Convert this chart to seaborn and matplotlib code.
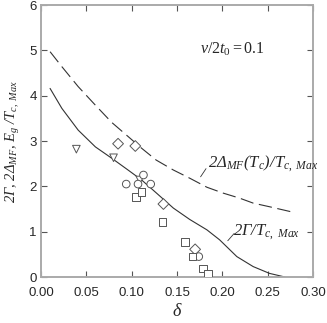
import matplotlib
matplotlib.use("Agg")
import matplotlib.pyplot as plt
import pandas as pd
import seaborn as sns

# curves
gamma_delta = [0.010, 0.023, 0.041, 0.060, 0.078, 0.096, 0.111, 0.128, 0.146,
               0.164, 0.183, 0.197, 0.216, 0.234, 0.252, 0.269]
gamma_val = [4.16, 3.72, 3.24, 2.87, 2.62, 2.36, 2.14, 1.84, 1.52,
             1.27, 1.04, 0.82, 0.45, 0.23, 0.08, 0.0]

dmf_delta = [0.010, 0.023, 0.041, 0.060, 0.078, 0.096, 0.111, 0.127, 0.146,
             0.164, 0.183, 0.201, 0.219, 0.234, 0.252, 0.280]
dmf_val = [4.97, 4.64, 4.20, 3.79, 3.41, 3.10, 2.84, 2.58, 2.36,
           2.18, 1.98, 1.85, 1.74, 1.63, 1.55, 1.42]

# experimental points
tri_x = [0.039, 0.080, 0.109]
tri_y = [2.82, 2.63, 2.14]
dia_x = [0.085, 0.104, 0.135, 0.170]
dia_y = [2.94, 2.89, 1.61, 0.61]
circ_x = [0.094, 0.107, 0.113, 0.121, 0.174]
circ_y = [2.05, 2.05, 2.25, 2.05, 0.45]
sq_x = [0.105, 0.111, 0.134, 0.159, 0.167, 0.179, 0.184]
sq_y = [1.76, 1.87, 1.21, 0.77, 0.45, 0.19, 0.07]

sns.set_style("ticks")
plt.rcParams['font.family'] = ['Liberation Sans', 'DejaVu Sans']
plt.rcParams['mathtext.fontset'] = 'custom'
plt.rcParams['mathtext.rm'] = 'Liberation Serif'
plt.rcParams['mathtext.it'] = 'Liberation Serif:italic'

pts = pd.concat([
    pd.DataFrame({'delta': tri_x, 'val': tri_y, 'kind': 'tri'}),
    pd.DataFrame({'delta': dia_x, 'val': dia_y, 'kind': 'dia'}),
    pd.DataFrame({'delta': circ_x, 'val': circ_y, 'kind': 'circ'}),
    pd.DataFrame({'delta': sq_x, 'val': sq_y, 'kind': 'sq'}),
])

fig = plt.figure(figsize=(3.27, 3.23), dpi=100)
ax = fig.add_axes([0.1254, 0.1424, 0.8318, 0.8421])

sns.lineplot(x=gamma_delta, y=gamma_val, ax=ax, color='#333333', lw=0.8)
sns.lineplot(x=dmf_delta, y=dmf_val, ax=ax, color='#333333', lw=0.8)
ax.lines[-1].set_dashes([12, 5])

sns.scatterplot(data=pts, x='delta', y='val', style='kind', ax=ax,
                markers={'tri': 'v', 'dia': 'D', 'circ': 'o', 'sq': 's'},
                s=30, facecolor='white', edgecolor='#555555', linewidth=0.7,
                legend=False, zorder=3)

ax.set_xlim(0, 0.30)
ax.set_ylim(0, 6)
ax.set_xticks([0, 0.05, 0.10, 0.15, 0.20, 0.25, 0.30])
ax.set_xticklabels(['0.00', '0.05', '0.10', '0.15', '0.20', '0.25', '0.30'])
ax.set_yticks(range(7))
ax.tick_params(direction='in', top=True, right=True, length=4, width=0.8,
               color='#555555', labelsize=9.5, pad=3)
ax.tick_params(axis='x', pad=7)
for s in ax.spines.values():
    s.set_color('#aaaaaa')
    s.set_linewidth(1.4)

serif_it = dict(family='Liberation Serif', style='italic')
ax.set_xlabel(r'$\delta$', fontsize=13, labelpad=3)
ax.set_ylabel(r'2Γ, 2Δ$_{MF}$, E$_g$ /T$_{c,\ Max}$', fontsize=10.5,
              labelpad=5, **serif_it)

ax.text(0.175, 4.93, r'$v/2t_0 = 0.1$', fontsize=11.5)
ax.text(0.184, 2.42, r'2Δ$_{MF}$(T$_c$)/T$_{c,\ Max}$', fontsize=12, **serif_it)
ax.plot([0.176, 0.182], [2.21, 2.39], color='#333333', lw=0.6)
ax.text(0.212, 0.92, r'2Γ/T$_{c,\ Max}$', fontsize=12, **serif_it)
ax.plot([0.206, 0.213], [0.80, 0.96], color='#333333', lw=0.6)

fig.savefig('out.png', dpi=100)
